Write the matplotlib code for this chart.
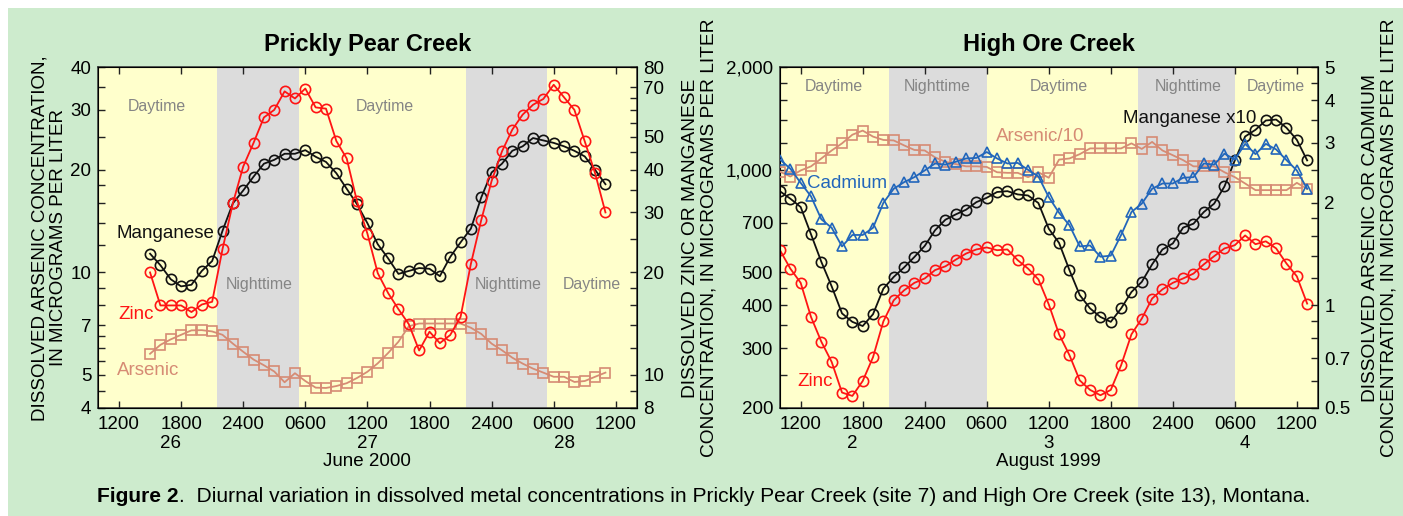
import matplotlib
matplotlib.use('Agg')
import matplotlib.pyplot as plt
from matplotlib.ticker import FixedLocator, FixedFormatter, NullFormatter
from matplotlib.patches import Rectangle

plt.rcParams['font.family'] = ['Liberation Sans', 'DejaVu Sans']

# ---- Prickly Pear Creek, June 2000 (hours from 00:00 on the 26th) ----
pp_hours = list(range(15, 60))
pp_zinc = [20.0, 16.0, 16.0, 16.0, 15.3, 16.1, 16.4, 23.4, 31.9, 40.9, 48.0, 57.0, 60.0, 68.0,
           64.8, 69.3, 61.0, 60.5, 48.6, 43.2, 32.3, 26.0, 19.9, 17.4, 15.6, 14.1, 11.8, 13.4,
           12.4, 13.1, 14.8, 21.2, 28.5, 37.1, 45.3, 52.5, 58.1, 62.1, 64.6, 71.1, 65.3, 60.0,
           48.5, 39.1, 30.0]
pp_manganese = [22.7, 21.0, 19.1, 18.2, 18.4, 20.2, 21.6, 26.5, 31.9, 34.8, 38.2, 41.7, 42.8,
                44.6, 44.6, 45.7, 43.7, 42.2, 39.1, 35.2, 31.7, 27.9, 24.2, 22.0, 19.8, 20.2,
                20.6, 20.5, 19.5, 22.2, 24.5, 26.9, 33.2, 39.3, 41.7, 45.5, 46.9, 49.6, 48.8,
                48.0, 46.9, 45.5, 43.8, 40.0, 36.3]
pp_arsenic = [5.77, 6.13, 6.36, 6.56, 6.76, 6.77, 6.71, 6.56, 6.18, 5.85, 5.55, 5.34, 5.12,
              4.76, 5.06, 4.80, 4.59, 4.58, 4.64, 4.73, 4.90, 5.11, 5.41, 5.80, 6.26, 6.95,
              7.08, 7.08, 7.08, 7.08, 7.08, 6.88, 6.60, 6.18, 5.91, 5.62, 5.40, 5.22, 5.08,
              4.94, 4.94, 4.77, 4.80, 4.94, 5.08]
pp_nights = [(21.45, 29.4), (45.55, 53.4)]

# ---- High Ore Creek, August 1999 (hours from 00:00 on the 2nd) ----
hoc_hours = list(range(10, 62))
hoc_zinc = [581, 513, 466, 370, 313, 273, 222, 217, 240, 282, 359, 414, 443, 466, 480, 508,
            521, 545, 568, 584, 592, 581, 584, 543, 513, 477, 403, 329, 286, 241, 226, 218,
            226, 267, 329, 366, 419, 446, 466, 480, 496, 528, 558, 588, 601, 642, 605, 617,
            588, 531, 487, 405]
hoc_manganese_x10 = [865, 823, 778, 647, 537, 455, 379, 358, 348, 377, 448, 485, 517, 555,
                     598, 665, 714, 740, 764, 804, 828, 861, 866, 847, 841, 799, 672, 610,
                     508, 429, 392, 370, 358, 392, 438, 469, 528, 584, 608, 677, 695, 752,
                     796, 894, 1066, 1253, 1311, 1396, 1405, 1329, 1225, 1066]
hoc_cadmium = [2.68, 2.52, 2.29, 2.09, 1.79, 1.69, 1.49, 1.61, 1.61, 1.69, 2.00, 2.20, 2.30,
               2.38, 2.49, 2.61, 2.59, 2.64, 2.70, 2.71, 2.82, 2.70, 2.61, 2.62, 2.50, 2.39,
               2.08, 1.87, 1.72, 1.49, 1.50, 1.39, 1.40, 1.61, 1.88, 1.99, 2.20, 2.28, 2.28,
               2.37, 2.38, 2.61, 2.59, 2.79, 2.68, 2.98, 2.78, 2.98, 2.87, 2.67, 2.49, 2.20]
hoc_arsenic_div10 = [2.47, 2.39, 2.49, 2.56, 2.70, 2.85, 2.99, 3.17, 3.26, 3.13, 3.06, 3.05,
                     2.95, 2.86, 2.85, 2.72, 2.64, 2.60, 2.56, 2.56, 2.55, 2.46, 2.45, 2.45,
                     2.38, 2.46, 2.37, 2.68, 2.70, 2.78, 2.89, 2.89, 2.89, 2.89, 2.99, 2.88,
                     3.02, 2.85, 2.76, 2.67, 2.56, 2.56, 2.56, 2.46, 2.38, 2.28, 2.18, 2.18,
                     2.18, 2.18, 2.29, 2.20]
hoc_nights = [(20.5, 30.0), (44.65, 54.0)]

x_ticks = [12, 18, 24, 30, 36, 42, 48, 54, 60]
x_labels = ['1200', '1800', '2400', '0600', '1200', '1800', '2400', '0600', '1200']

BG = '#cdebcd'
DAY = '#ffffcc'
NIGHT = '#dcdcdc'
RED = '#ff1414'
BLACK = '#111111'
BROWN = '#d68b74'
BLUE = '#2266bb'
GRAY = '#858585'
FS = 13.5


def log_axis(ax, lo, hi, major, labels, minor):
    ax.set_yscale('log')
    ax.set_ylim(lo, hi)
    ax.yaxis.set_major_locator(FixedLocator(major))
    ax.yaxis.set_major_formatter(FixedFormatter(labels))
    ax.yaxis.set_minor_locator(FixedLocator(minor))
    ax.yaxis.set_minor_formatter(NullFormatter())
    ax.tick_params(axis='y', which='both', direction='in', length=5, width=1,
                   labelsize=FS, pad=5, color='#222222')


def base_panel(rect, nights, title, days, month):
    ax = fig.add_axes(rect)
    ax.set_facecolor(DAY)
    for a, b in nights:
        ax.axvspan(a, b, color=NIGHT, lw=0, zorder=0)
    ax.set_xlim(10, 62)
    ax.set_xticks(x_ticks)
    ax.set_xticklabels(x_labels)
    ax.tick_params(axis='x', which='both', direction='in', length=5, width=1,
                   labelsize=FS, pad=6, top=True, color='#222222')
    for s in ax.spines.values():
        s.set_linewidth(1.1)
        s.set_color('#333333')
    tr = ax.get_xaxis_transform()
    for h, d in days:
        ax.text(h, -0.103, d, transform=tr, ha='center', va='center', fontsize=FS)
    ax.text(36, -0.157, month, transform=tr, ha='center', va='center', fontsize=FS)
    ax.text(0.5, 1.066, title, transform=ax.transAxes, ha='center', va='center',
            fontsize=17, fontweight='bold')
    return ax


def series(ax, x, y, color, marker, ms):
    ax.plot(x, y, color=color, lw=1.3, marker=marker, ms=ms, mfc='none',
            mec=color, mew=1.2, zorder=3)


fig = plt.figure(figsize=(14.03, 5.16), dpi=100)
fig.patches.append(Rectangle((8 / 1403, 0), 1, 1 - 8 / 516, transform=fig.transFigure,
                             facecolor=BG, edgecolor='none', zorder=-10))

bottom = 1 - 408 / 516
height = (408 - 67.3) / 516

# ---------------- left panel ----------------
ax1 = base_panel([98.3 / 1403, bottom, 538.2 / 1403, height], pp_nights,
                 'Prickly Pear Creek', [(17, '26'), (36, '27'), (55, '28')], 'June 2000')
log_axis(ax1, 4, 40, [4, 5, 7, 10, 20, 30, 40], ['4', '5', '7', '10', '20', '30', '40'],
         [4.5, 5.5, 6, 6.5, 8, 9, 12, 14, 16, 18, 25, 35])
ax1b = ax1.twinx()
log_axis(ax1b, 8, 80, [8, 10, 20, 30, 40, 50, 70, 80],
         ['8', '10', '20', '30', '40', '50', '70', '80'],
         [9, 12, 14, 16, 18, 25, 35, 45, 55, 60, 65])
series(ax1, pp_hours, pp_arsenic, BROWN, 's', 7.6)
series(ax1b, pp_hours, pp_manganese, BLACK, 'o', 7.4)
series(ax1b, pp_hours, pp_zinc, RED, 'o', 7.4)

for h, v, t in [(15.7, 30.6, 'Daytime'), (25.55, 9.24, 'Nighttime'), (37.7, 30.6, 'Daytime'),
                (49.6, 9.24, 'Nighttime'), (57.7, 9.24, 'Daytime')]:
    ax1.text(h, v, t, ha='center', va='center', fontsize=11.4, color=GRAY, zorder=1)
ax1.text(11.8, 12.97, 'Manganese', ha='left', va='center', fontsize=FS, color=BLACK, zorder=5)
ax1.text(11.9, 7.55, 'Zinc', ha='left', va='center', fontsize=FS, color=RED, zorder=5)
ax1.text(11.8, 5.15, 'Arsenic', ha='left', va='center', fontsize=FS, color=BROWN, zorder=5)

# ---------------- right panel ----------------
ax2 = base_panel([780 / 1403, bottom, 537.5 / 1403, height], hoc_nights,
                 'High Ore Creek', [(17, '2'), (36, '3'), (55, '4')], 'August 1999')
log_axis(ax2, 200, 2000, [200, 300, 400, 500, 700, 1000, 2000],
         ['200', '300', '400', '500', '700', '1,000', '2,000'],
         [250, 350, 450, 600, 800, 900, 1200, 1400, 1600, 1800])
ax2b = ax2.twinx()
log_axis(ax2b, 0.5, 5, [0.5, 0.7, 1, 2, 3, 4, 5], ['0.5', '0.7', '1', '2', '3', '4', '5'],
         [0.6, 0.8, 0.9, 1.2, 1.4, 1.6, 1.8, 2.5, 3.5, 4.5])
series(ax2, hoc_hours, hoc_manganese_x10, BLACK, 'o', 7.4)
series(ax2, hoc_hours, hoc_zinc, RED, 'o', 7.4)
series(ax2b, hoc_hours, hoc_arsenic_div10, BROWN, 's', 7.6)
series(ax2b, hoc_hours, hoc_cadmium, BLUE, '^', 7.4)

for h, t in [(15.2, 'Daytime'), (25.2, 'Nighttime'), (37.0, 'Daytime'),
             (49.45, 'Nighttime'), (58.0, 'Daytime')]:
    ax2.text(h, 1755, t, ha='center', va='center', fontsize=11.4, color=GRAY, zorder=1)
ax2.text(56.05, 1417, 'Manganese x10', ha='right', va='center', fontsize=FS, color=BLACK, zorder=5)
ax2.text(30.85, 1251, 'Arsenic/10', ha='left', va='center', fontsize=FS, color=BROWN, zorder=5)
ax2.text(12.65, 909, 'Cadmium', ha='left', va='center', fontsize=FS, color=BLUE, zorder=5)
ax2.text(11.7, 239, 'Zinc', ha='left', va='center', fontsize=FS, color=RED, zorder=5)

# ---------------- axis titles ----------------
ycen = 1 - 238 / 516
fig.text(49 / 1403, ycen, 'DISSOLVED ARSENIC CONCENTRATION,\nIN MICROGRAMS PER LITER',
         rotation=90, ha='center', va='center', multialignment='center',
         fontsize=FS, linespacing=1.15)
fig.text(700 / 1403, ycen, 'DISSOLVED ZINC OR MANGANESE\nCONCENTRATION, IN MICROGRAMS PER LITER',
         rotation=90, ha='center', va='center', multialignment='center',
         fontsize=13.8, linespacing=1.15)
fig.text(1380 / 1403, ycen, 'DISSOLVED ARSENIC OR CADMIUM\nCONCENTRATION, IN MICROGRAMS PER LITER',
         rotation=90, ha='center', va='center', multialignment='center',
         fontsize=13.8, linespacing=1.15)

# ---------------- caption ----------------
cap_y = 1 - 497 / 516
CAP_FS = 15.1
t1 = fig.text(97 / 1403, cap_y, 'Figure 2', ha='left', va='center', fontsize=CAP_FS,
              fontweight='bold')
fig.canvas.draw()
bb = t1.get_window_extent()
fig.text(bb.x1 / fig.bbox.width, cap_y,
         '.  Diurnal variation in dissolved metal concentrations in Prickly Pear Creek '
         '(site 7) and High Ore Creek (site 13), Montana.',
         ha='left', va='center', fontsize=CAP_FS)

fig.savefig('out.png', dpi=100)
